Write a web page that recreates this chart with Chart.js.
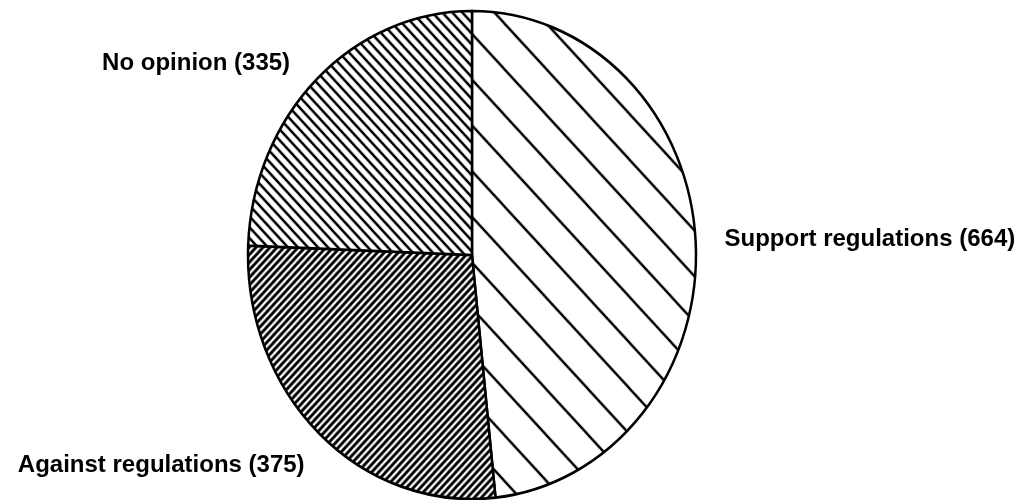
<!DOCTYPE html>
<html>
<head>
<meta charset="utf-8">
<title>Opinion on regulations</title>
<script src="https://cdn.jsdelivr.net/npm/chart.js@4.4.1/dist/chart.umd.min.js"></script>
<style>
  html, body { margin: 0; padding: 0; background: #fff; }
  #pie { display: block; }
</style>
</head>
<body>
<canvas id="pie" width="1027" height="500"></canvas>
<script>
// Survey answers
const categories = ['Support regulations', 'Against regulations', 'No opinion'];
const counts = [664, 375, 335];

// Build a hatch fill: period in px, stroke width, 'back' = \ and 'fwd' = /
function makeHatch(period, lineWidth, dir) {
  const tile = document.createElement('canvas');
  tile.width = period;
  tile.height = period;
  const c = tile.getContext('2d');
  c.fillStyle = '#fff';
  c.fillRect(0, 0, period, period);
  c.strokeStyle = '#000';
  c.lineWidth = lineWidth;
  c.beginPath();
  for (let k = -1; k <= 1; k++) {
    const x0 = k * period;
    if (dir === 'back') {
      c.moveTo(x0 - 2, -2);
      c.lineTo(x0 + period + 2, period + 2);
    } else {
      c.moveTo(x0 - 2, period + 2);
      c.lineTo(x0 + period + 2, -2);
    }
  }
  c.stroke();
  return c.createPattern(tile, 'repeat');
}

// the original pie is slightly taller than wide
const STRETCH = 244 / 224;

const ellipsePlugin = {
  id: 'ellipse',
  beforeDatasetsDraw(chart) {
    const arc = chart.getDatasetMeta(0).data[0];
    const ctx = chart.ctx;
    ctx.save();
    ctx.translate(arc.x, arc.y);
    ctx.scale(1, STRETCH);
    ctx.translate(-arc.x, -arc.y);
  },
  afterDatasetsDraw(chart) {
    chart.ctx.restore();
  }
};

// Labels outside each slice, "Name (count)"
const outsideLabels = {
  id: 'outsideLabels',
  afterDraw(chart, args, opts) {
    const ctx = chart.ctx;
    const meta = chart.getDatasetMeta(0);
    ctx.save();
    ctx.font = opts.font;
    ctx.fillStyle = '#000';
    ctx.textBaseline = 'alphabetic';
    meta.data.forEach((arc, i) => {
      const mid = (arc.startAngle + arc.endAngle) / 2;
      const r = arc.outerRadius * opts.push;
      const x = arc.x + Math.cos(mid) * r;
      const y = arc.y + Math.sin(mid) * r * STRETCH;
      const nudge = opts.nudge[i] || [0, 0];
      ctx.textAlign = Math.cos(mid) >= 0 ? 'left' : 'right';
      ctx.fillText(categories[i] + ' (' + counts[i] + ')', x + nudge[0], y + nudge[1]);
    });
    ctx.restore();
  }
};

const ctx = document.getElementById('pie').getContext('2d');
new Chart(ctx, {
  type: 'pie',
  data: {
    labels: categories,
    datasets: [{
      data: counts,
      backgroundColor: [
        makeHatch(42, 2.3, 'back'),
        makeHatch(7, 2.8, 'fwd'),
        makeHatch(10, 2.4, 'back')
      ],
      borderColor: '#000',
      borderWidth: 2.5,
      borderJoinStyle: 'miter'
    }]
  },
  options: {
    responsive: false,
    animation: false,
    radius: 224,
    layout: {
      padding: { left: 0, right: 83, top: 10, bottom: 0 }
    },
    plugins: {
      legend: { display: false },
      tooltip: { enabled: false },
      outsideLabels: {
        font: 'bold 24px "Liberation Sans", Arial, sans-serif',
        push: 1.12,
        nudge: [[2, 5], [4, 17], [-8, 12]]
      }
    }
  },
  plugins: [ellipsePlugin, outsideLabels]
});
</script>
</body>
</html>
